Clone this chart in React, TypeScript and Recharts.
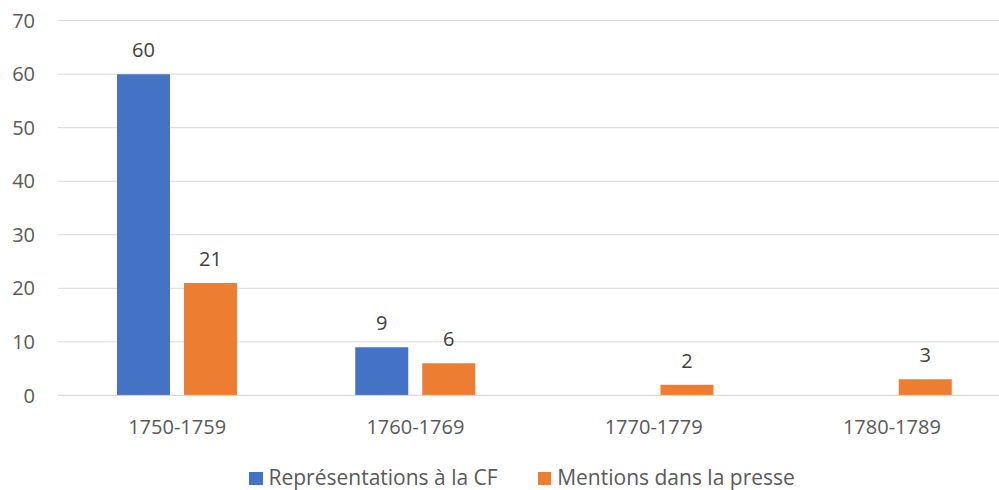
import React from 'react';
import { BarChart, Bar, XAxis, YAxis, CartesianGrid, Legend, LabelList } from 'recharts';

const categories = ['1750-1759', '1760-1769', '1770-1779', '1780-1789'];
const representations = [60, 9, 0, 0];
const mentions = [21, 6, 2, 3];
const yTicks = [0, 10, 20, 30, 40, 50, 60, 70];

const seriesNames = ['Représentations à la CF', 'Mentions dans la presse'];
const seriesColors = ['#4472C4', '#ED7D31'];

const data = categories.map((c, i) => ({
  category: c,
  rep: representations[i],
  men: mentions[i],
}));

const FONT = '"Open Sans", "Segoe UI", sans-serif';

const renderLabel = (props: any) => {
  const { x, y, width, value } = props;
  if (!value) return null;
  return (
    <text
      x={x + width / 2}
      y={y - 17}
      textAnchor="middle"
      fill="#404040"
      fontSize={20}
      fontFamily={FONT}
    >
      {value}
    </text>
  );
};

const LegendContent = () => (
  <div style={{ display: 'flex', alignItems: 'center', height: 21, fontFamily: FONT, fontSize: 21, lineHeight: '21px', color: '#595959', whiteSpace: 'nowrap' }}>
    {seriesNames.map((n, i) => (
      <div key={n} style={{ display: 'flex', alignItems: 'center', height: 21, marginRight: i === 0 ? 40 : 0 }}>
        <span style={{ display: 'inline-block', width: 13.5, height: 13.5, background: seriesColors[i], marginRight: 6, marginTop: 2 }} />
        <span style={{ lineHeight: '21px' }}>{n}</span>
      </div>
    ))}
  </div>
);

export default function App() {
  return (
    <div style={{ position: 'fixed', left: 0, top: 0, width: 999, height: 490, overflow: 'hidden', background: '#fff' }}>
      <BarChart
        width={1020}
        height={490}
        data={data}
        margin={{ top: 20.6, right: 9, bottom: 64.6, left: 0 }}
        barGap={14}
        barSize={53}
      >
        <CartesianGrid vertical={false} stroke="#d9d9d9" strokeWidth={1} />
        <XAxis
          dataKey="category"
          axisLine={{ stroke: '#d9d9d9' }}
          tickLine={false}
          tickSize={0}
          tickMargin={24}
          tick={{ fill: '#595959', fontSize: 20, fontFamily: FONT }}
          interval={0}
        />
        <YAxis
          width={58}
          domain={[0, 70]}
          ticks={yTicks}
          axisLine={false}
          tickLine={false}
          tickSize={0}
          tickMargin={23}
          tick={{ fill: '#595959', fontSize: 20, fontFamily: FONT }}
          interval={0}
        />
        <Legend
          layout="horizontal"
          verticalAlign="middle"
          align="center"
          content={<LegendContent />}
          wrapperStyle={{ top: 467, left: 249, width: 620, height: 21 }}
        />
        <Bar dataKey="rep" name={seriesNames[0]} fill={seriesColors[0]} isAnimationActive={false}>
          <LabelList dataKey="rep" content={renderLabel} />
        </Bar>
        <Bar dataKey="men" name={seriesNames[1]} fill={seriesColors[1]} isAnimationActive={false}>
          <LabelList dataKey="men" content={renderLabel} />
        </Bar>
      </BarChart>
    </div>
  );
}
